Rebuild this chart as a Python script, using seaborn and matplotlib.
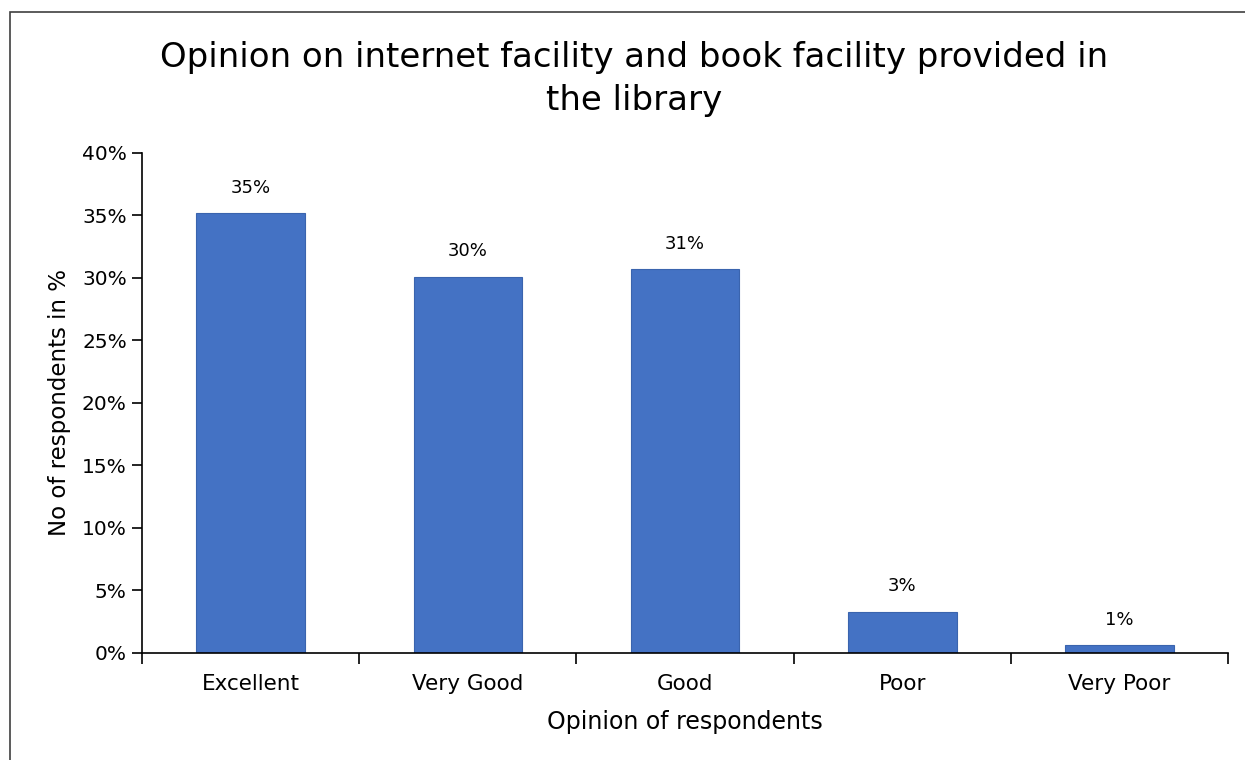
import matplotlib
matplotlib.use("Agg")
import matplotlib.pyplot as plt
from matplotlib.patches import Rectangle
from matplotlib.ticker import FuncFormatter, FixedLocator
import seaborn as sns
import pandas as pd

# Survey results: share of respondents per opinion level (%)
categories = ["Excellent", "Very Good", "Good", "Poor", "Very Poor"]
shares = [35.2, 30.1, 30.7, 3.3, 0.6]
y_ticks = [0, 5, 10, 15, 20, 25, 30, 35, 40]

df = pd.DataFrame({"Opinion": categories, "Share": shares})

sns.set_theme(style="white")
plt.rcParams["font.family"] = ["DejaVu Sans"]
plt.rcParams["text.color"] = "black"
plt.rcParams["axes.labelcolor"] = "black"
plt.rcParams["xtick.color"] = "black"
plt.rcParams["ytick.color"] = "black"

fig = plt.figure(figsize=(12.45, 7.6), dpi=100)
ax = fig.add_axes([0.1141, 0.1408, 0.8723, 0.6579])

sns.barplot(data=df, x="Opinion", y="Share", color="#4472C4", width=0.5,
            edgecolor="#3A64AE", linewidth=0.8, saturation=1, ax=ax)

for i, v in enumerate(shares):
    ax.text(i, v + 1.3, f"{v:.0f}%", ha="center", va="bottom",
            fontsize=13, color="black")

ax.set_xlim(-0.5, len(categories) - 0.5)
ax.set_ylim(0, 40)
ax.yaxis.set_major_locator(FixedLocator(y_ticks))
ax.yaxis.set_major_formatter(FuncFormatter(lambda v, _: f"{v:.0f}%"))

# category separators as outward tick marks on the x axis
ax.set_xticks([i - 0.5 for i in range(len(categories) + 1)], minor=True)
ax.set_xticks(range(len(categories)))
ax.set_xticklabels(categories)
ax.tick_params(axis="x", which="major", length=0, labelsize=15.5, pad=15)
ax.tick_params(axis="x", which="minor", length=8, width=1.2, color="black",
               direction="out", bottom=True)
ax.tick_params(axis="y", length=7, width=1.2, color="black", direction="out",
               left=True, labelsize=14.5, pad=4)

for side in ["top", "right"]:
    ax.spines[side].set_visible(False)
for side in ["left", "bottom"]:
    ax.spines[side].set_color("black")
    ax.spines[side].set_linewidth(1.2)

ax.set_xlabel("Opinion of respondents", fontsize=17, labelpad=12)
ax.set_ylabel("No of respondents in %", fontsize=16.5, labelpad=8)

fig.text(0.509, 0.896, "Opinion on internet facility and book facility provided in\nthe library",
         ha="center", va="center", fontsize=24.5, linespacing=1.4)

# chart-area frame
fig.patches.append(Rectangle((10 / 1245, -0.01), 1.02, (760 - 12) / 760 + 0.01,
                             transform=fig.transFigure, fill=False,
                             edgecolor="#404040", linewidth=1.2))

fig.savefig("out.png", dpi=100)
